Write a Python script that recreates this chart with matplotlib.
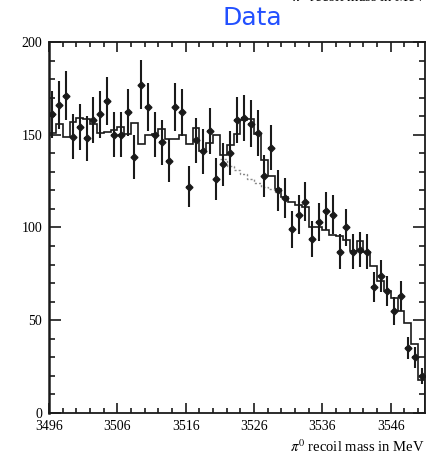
import numpy as np
import matplotlib
matplotlib.use("Agg")
import matplotlib.pyplot as plt
from matplotlib.ticker import MultipleLocator

plt.rcParams["mathtext.fontset"] = "stix"

# pi0 recoil mass histogram, 1 MeV bins from 3496 to 3551
mass_lo = 3496
mass_hi = 3551

data_counts = [161, 166, 171, 149, 154, 148, 158, 161, 168, 150,
               150, 162, 138, 177, 165, 150, 146, 136, 165, 162,
               122, 147, 141, 152, 126, 134, 140, 158, 159, 156,
               151, 128, 143, 120, 116, 99, 107, 114, 94, 103,
               109, 107, 87, 100, 87, 88, 87, 68, 74, 66,
               55, 63, 35, 30, 20]
data_errors = [12.7, 12.9, 13.1, 12.2, 12.4, 12.2, 12.6, 12.7, 13.0, 12.2,
               12.2, 12.7, 11.7, 13.3, 12.8, 12.2, 12.1, 11.7, 12.8, 12.7,
               11.0, 12.1, 11.9, 12.3, 11.2, 11.6, 11.8, 12.6, 12.6, 12.5,
               12.3, 11.3, 12.0, 11.0, 10.8, 9.9, 10.3, 10.7, 9.7, 10.1,
               10.4, 10.3, 9.3, 10.0, 9.3, 9.4, 9.3, 8.2, 8.6, 8.1,
               7.4, 7.9, 5.9, 5.5, 4.5]

# fitted total (solid histogram)
fit_total = [151, 156, 149, 157, 159, 158.5, 156, 151, 151.5, 152.5,
             154, 150.5, 156.5, 145, 150, 150.5, 153, 147.5, 147.5, 150,
             145, 153.5, 141, 145.5, 150, 139, 144.5, 150.5, 158, 158.5,
             150.5, 136.5, 128, 120.5, 116.5, 113.5, 112, 111, 100, 100,
             98.5, 96, 95.5, 93, 87.5, 92.5, 87, 79, 71, 66,
             62, 55, 48.5, 37, 18]

# background-only component (dotted), bins 3521..3530
bkg_start = 3521
bkg_only = [137, 133, 131, 129, 126, 124, 122, 121, 119]

fig = plt.figure(figsize=(4.29, 4.61), dpi=100)
ax = fig.add_axes([49 / 429, 48 / 461, 376 / 429, 371 / 461])

edges = np.arange(mass_lo, mass_hi + 1)
centers = edges[:-1] + 0.5

# Histograms
ax.stairs(fit_total, edges, baseline=0, color="#1a1a1a", linewidth=1.2)
bkg_edges = np.arange(bkg_start, bkg_start + len(bkg_only) + 1)
ax.stairs(bkg_only, bkg_edges, baseline=None, color="#8a8a8a",
          linewidth=1.0, linestyle=(0, (1.5, 1.5)))

# Data points
ax.errorbar(centers, data_counts, yerr=data_errors, xerr=0.4, fmt="D",
            color="#1a1a1a", ms=3.5, elinewidth=1.5, capsize=0)

ax.set_xlim(mass_lo, mass_hi)
ax.set_ylim(0, 200)

# ROOT style ticks
ax.xaxis.set_major_locator(MultipleLocator(10, offset=6))
ax.xaxis.set_minor_locator(MultipleLocator(2))
ax.yaxis.set_major_locator(MultipleLocator(50))
ax.yaxis.set_minor_locator(MultipleLocator(10))
ax.tick_params(which="both", direction="in", top=True, right=True,
               width=1.2, color="#1a1a1a", labelsize=10)
ax.tick_params(axis="x", which="major", length=7, pad=5)
ax.tick_params(axis="x", which="minor", length=3.5)
ax.tick_params(axis="y", which="major", length=8.5, pad=5)
ax.tick_params(axis="y", which="minor", length=4.3)
for lbl in ax.get_xticklabels() + ax.get_yticklabels():
    lbl.set_family("Liberation Serif")
for s in ax.spines.values():
    s.set_linewidth(1.3)
    s.set_color("#1a1a1a")
ax.spines["left"].set_linewidth(1.8)

# Axis label, right aligned under the axis
fig.text(425 / 429, 1 - 452 / 461, r"$\pi^0$ recoil mass in MeV",
         ha="right", va="baseline", family="Liberation Serif", fontsize=10.5)

# Title
fig.text(252 / 429, 1 - 18 / 461, "Data", ha="center", va="center",
         color="#2250ff", fontsize=18, family="DejaVu Sans")

# clipped leftover label at top edge
fig.text(292 / 429, 1 - 2 / 461, r"$\pi^0$ recoil mass in MeV",
         ha="left", va="baseline", family="Liberation Serif", fontsize=10.5)

fig.savefig("out.png", dpi=100)
